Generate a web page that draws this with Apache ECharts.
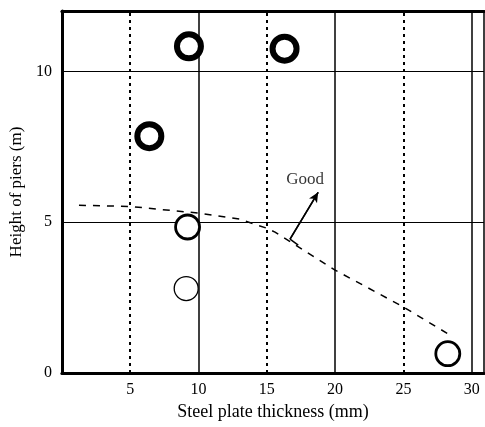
<!DOCTYPE html>
<html>
<head>
<meta charset="utf-8">
<script src="https://cdn.jsdelivr.net/npm/echarts@6/dist/echarts.min.js"></script>
<style>
    html, body {margin: 0; padding: 0; background: #fff;}
    #chart {width: 485px; height: 427px;}
</style>
</head>
<body>
<div id="chart"></div>
<script>
    //刻度
    var xTicks = [5, 10, 15, 20, 25, 30];
    var xSolid = [10, 20, 30];
    var yTicks = [0, 5, 10];
    //数据点 [板厚, 高度]
    var heavyPoints = [[9.3, 10.83], [16.3, 10.75], [6.4, 7.85]];
    var mediumPoints = [[9.2, 4.84], [28.25, 0.64]];
    var lightPoints = [[9.1, 2.8]];
    //分界线
    var boundary = [[1.25, 5.56], [5, 5.52], [10, 5.3], [13, 5.1], [15, 4.8], [15.6, 4.67], [20, 3.41], [25, 2.19], [28.4, 1.26]];
    //箭头
    var arrowFoot = [[17.3, 4.24], [16.7, 4.44]];
    var arrowTip = [[16.7, 4.44], [18.76, 5.99]];
    var goodLabel = [[17.8, 6.42]];

    var serif = 'Liberation Serif';

    var vLines = xTicks.map(function (x) {
        var solid = xSolid.indexOf(x) >= 0;
        return {
            xAxis: x,
            lineStyle: solid ? {type: 'solid', width: 1.5, color: '#000'} : {type: [3, 4], width: 2, color: '#000'}
        };
    });

    var circleStyle = function (bw) {
        return {color: '#fff', borderColor: '#000', borderWidth: bw, opacity: 1};
    };

    var option = {
        animation: false,
        grid: {left: 61, right: 1, top: 11, bottom: 54, show: true, borderColor: '#000', borderWidth: 1.5},
        xAxis: [{
            type: 'value',
            min: 0,
            max: 30.9,
            interval: 5,
            name: 'Steel plate thickness (mm)',
            nameLocation: 'middle',
            nameGap: 26,
            nameTextStyle: {fontFamily: serif, fontSize: 18, color: '#000'},
            axisLine: {lineStyle: {color: '#000', width: 3}},
            axisTick: {show: false},
            splitLine: {show: false},
            axisLabel: {
                fontFamily: serif, fontSize: 16, color: '#000', margin: 9,
                formatter: function (v) { return v === 0 ? '' : v; }
            }
        }, {
            type: 'value',
            position: 'top',
            min: 0,
            max: 30.9,
            axisLine: {show: true, lineStyle: {color: '#000', width: 3}},
            axisTick: {show: false},
            axisLabel: {show: false},
            splitLine: {show: false}
        }],
        yAxis: {
            type: 'value',
            min: 0,
            max: 12,
            interval: 5,
            name: 'Height of piers (m)',
            nameLocation: 'middle',
            nameGap: 35,
            nameTextStyle: {fontFamily: serif, fontSize: 17, color: '#000'},
            axisLine: {show: true, lineStyle: {color: '#000', width: 3}},
            axisTick: {show: false},
            splitLine: {show: true, lineStyle: {color: '#000', width: 1}},
            axisLabel: {
                fontFamily: serif, fontSize: 16, color: '#000', margin: 10,
                formatter: function (v) { return yTicks.indexOf(v) >= 0 ? v : ''; }
            }
        },
        series: [{
            type: 'line',
            data: boundary,
            symbol: 'none',
            lineStyle: {color: '#000', width: 1.5, type: [7, 7]},
            markLine: {
                silent: true,
                symbol: 'none',
                label: {show: false},
                data: vLines
            },
            z: 3
        }, {
            type: 'line',
            data: arrowFoot,
            symbol: 'none',
            lineStyle: {color: '#000', width: 1.5},
            z: 3
        }, {
            type: 'line',
            data: arrowTip,
            symbol: 'none',
            lineStyle: {color: '#000', width: 1.5},
            markLine: {
                silent: true,
                symbol: ['none', 'arrow'],
                symbolSize: [7, 10],
                label: {show: false},
                lineStyle: {color: '#000', width: 1.5, type: 'solid'},
                data: [[{coord: arrowTip[0]}, {coord: arrowTip[1]}]]
            },
            z: 3
        }, {
            type: 'scatter',
            data: goodLabel,
            symbolSize: 0,
            label: {
                show: true, position: 'inside', formatter: 'Good',
                fontFamily: serif, fontSize: 17, color: '#000'
            }
        }, {
            type: 'scatter',
            data: heavyPoints,
            symbol: 'circle',
            symbolSize: 24,
            itemStyle: circleStyle(6),
            z: 5
        }, {
            type: 'scatter',
            data: mediumPoints,
            symbol: 'circle',
            symbolSize: 24,
            itemStyle: circleStyle(2.8),
            z: 5
        }, {
            type: 'scatter',
            data: lightPoints,
            symbol: 'circle',
            symbolSize: 24,
            itemStyle: circleStyle(1.3),
            z: 5
        }]
    };

    var myChart = echarts.init(document.getElementById('chart'));
    myChart.setOption(option);
</script>
</body>
</html>
